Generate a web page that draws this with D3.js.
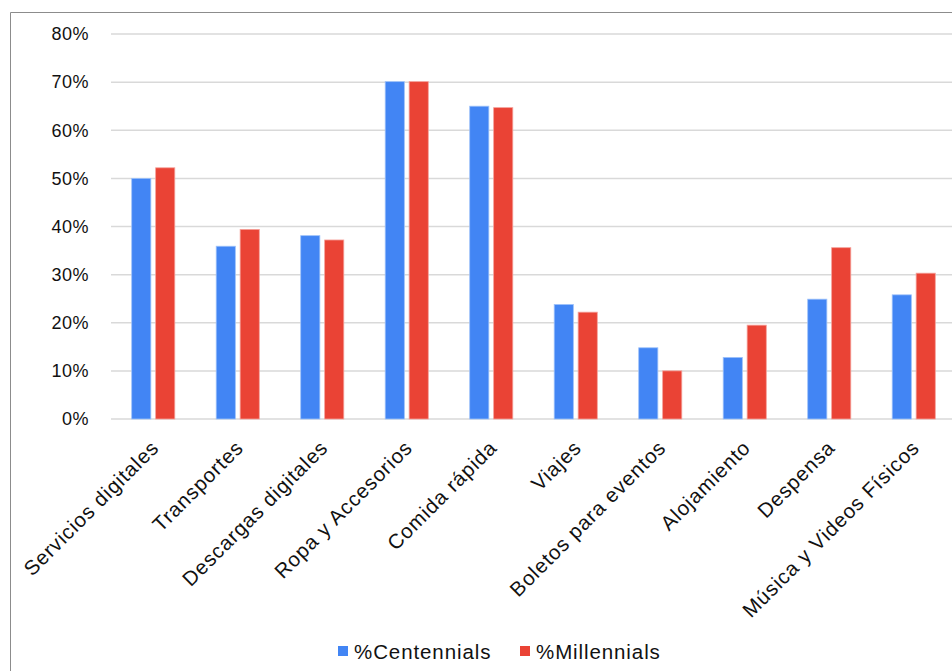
<!DOCTYPE html>
<html>
<head>
<meta charset="utf-8">
<script src="https://cdn.jsdelivr.net/npm/d3@7"></script>
<style>
  html, body { margin: 0; padding: 0; background: #fff; }
  svg { display: block; font-family: "Liberation Sans", Arial, Helvetica, sans-serif; }
</style>
</head>
<body>
<svg id="chart" width="952" height="671"></svg>
<script>
// Purchase categories and share of each generation that buys them
const categories = [
  "Servicios digitales", "Transportes", "Descargas digitales", "Ropa y Accesorios",
  "Comida rápida", "Viajes", "Boletos para eventos", "Alojamiento", "Despensa",
  "Música y Videos Físicos"
];
const seriesNames = ["%Centennials", "%Millennials"];
const centennials = [50.0, 35.9, 38.1, 70.1, 65.0, 23.8, 14.8, 12.8, 24.9, 25.8];
const millennials = [52.2, 39.4, 37.2, 70.1, 64.7, 22.2, 10.0, 19.5, 35.6, 30.3];
const yTicks = [0, 10, 20, 30, 40, 50, 60, 70, 80];
const colors = ["#4285F4", "#EA4335"];

const svg = d3.select("#chart");
const W = 952, H = 671;

// Outer frame of the chart area
svg.append("path")
  .attr("d", `M10.5,${H} L10.5,12.5 L${W},12.5`)
  .attr("fill", "none")
  .attr("stroke", "#8c8c8c")
  .attr("stroke-width", 1);

const plot = { left: 111, right: 956, top: 34, bottom: 419 };

const y = d3.scaleLinear().domain([0, 80]).range([plot.bottom, plot.top]);
const x0 = d3.scaleBand().domain(categories).range([plot.left, plot.right])
  .paddingInner(0.49).paddingOuter(0.245);
const x1 = d3.scaleBand().domain(seriesNames).range([0, x0.bandwidth()]).paddingInner(0.2);

// Horizontal gridlines
svg.append("g")
  .selectAll("line")
  .data(yTicks)
  .join("line")
  .attr("x1", plot.left)
  .attr("x2", W)
  .attr("y1", d => y(d))
  .attr("y2", d => y(d))
  .attr("stroke", "#d9d9d9")
  .attr("stroke-width", 1.5);

// Y axis labels
const yAxis = d3.axisLeft(y).tickValues(yTicks).tickFormat(d => d + "%").tickSize(0).tickPadding(0);
const gy = svg.append("g").attr("transform", "translate(89,0)").call(yAxis);
gy.select(".domain").remove();
gy.selectAll("text")
  .attr("font-size", 18)
  .attr("letter-spacing", 0.5)
  .attr("fill", "#111")
  .attr("font-family", "Liberation Sans, Arial, sans-serif");

// Grouped bars
const rows = categories.map((c, i) => ({ cat: c, vals: [centennials[i], millennials[i]] }));
const groups = svg.append("g").selectAll("g")
  .data(rows)
  .join("g")
  .attr("transform", d => `translate(${x0(d.cat)},0)`);

groups.selectAll("rect")
  .data(d => d.vals.map((v, k) => ({ name: seriesNames[k], v, k })))
  .join("rect")
  .attr("x", d => x1(d.name))
  .attr("width", x1.bandwidth())
  .attr("y", d => y(d.v))
  .attr("height", d => y(0) - y(d.v))
  .attr("fill", d => colors[d.k])
  .attr("stroke", d => d.k === 0 ? "#9ec2fa" : "#f5a19a")
  .attr("stroke-width", 0.8);

// Rotated category labels
const xAxis = svg.append("g");
xAxis.selectAll("text")
  .data(categories)
  .join("text")
  .attr("transform", d => `translate(${x0(d) + x0.bandwidth() / 2 + 7},449) rotate(-45)`)
  .attr("text-anchor", "end")
  .attr("font-size", 20.5)
  .attr("letter-spacing", 0.9)
  .attr("fill", "#111")
  .text(d => d);

// Legend
const legendItems = [
  { name: seriesNames[0], color: colors[0], x: 338 },
  { name: seriesNames[1], color: colors[1], x: 520 }
];
const lg = svg.append("g").selectAll("g").data(legendItems).join("g")
  .attr("transform", d => `translate(${d.x},0)`);
lg.append("rect").attr("x", 0).attr("y", 646).attr("width", 10).attr("height", 10)
  .attr("fill", d => d.color);
lg.append("text").attr("x", 16).attr("y", 659)
  .attr("font-size", 20.5)
  .attr("letter-spacing", 0.9)
  .attr("fill", "#111")
  .text(d => d.name);
</script>
</body>
</html>
